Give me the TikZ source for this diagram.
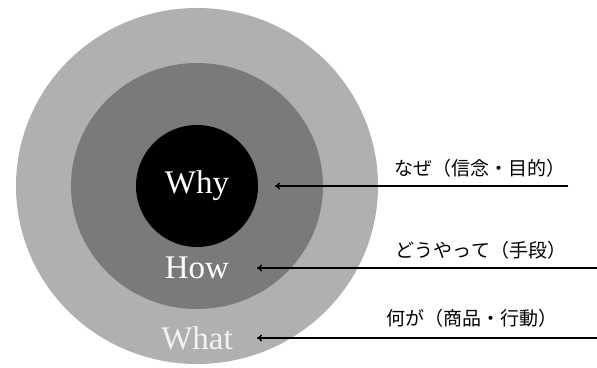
\documentclass[tikz,border=0pt]{standalone}
\usepackage{fontspec}
\setmainfont{Liberation Serif}
\newfontfamily\cjk{Noto Sans CJK JP}
\usetikzlibrary{arrows.meta}
\begin{document}
\begin{tikzpicture}[x=1pt,y=1pt,
  word/.style={font=\fontsize{33}{36}\selectfont, inner sep=0pt},
  lbl/.style={font=\cjk\fontsize{19}{22}\selectfont, inner sep=0pt},
  ptr/.style={line width=1.4pt, -{To[length=5pt,width=7pt]}}]
\useasboundingbox (0,0) rectangle (597,367);
\fill[white] (0,0) rectangle (597,367);
\fill[color={rgb,255:red,176;green,176;blue,176}] (197,181) ellipse [x radius=181, y radius=178];
\fill[color={rgb,255:red,122;green,122;blue,122}] (197,181) ellipse [x radius=126, y radius=123];
\fill[black] (197,181) circle [radius=61];
\node[word, text=white] (why) at (197,181) {Why};
\node[word, text=white] (how) at (197,99) {How};
\node[word, text={rgb,255:red,242;green,242;blue,242}] (what) at (197,29) {What};
\node[lbl] (l1) at (480,199) {なぜ（信念・目的）};
\node[lbl] (l2) at (481,117) {どうやって（手段）};
\node[lbl] (l3) at (472,49) {何が（商品・行動）};
\coordinate (s1) at (568,181);
\coordinate (e1) at (275,181);
\coordinate (s2) at (597,99);
\coordinate (e2) at (257,99);
\coordinate (s3) at (597,29);
\coordinate (e3) at (257,29);
\draw[ptr] (s1) -- (e1);
\draw[ptr] (s2) -- (e2);
\draw[ptr] (s3) -- (e3);
\end{tikzpicture}
\end{document}
